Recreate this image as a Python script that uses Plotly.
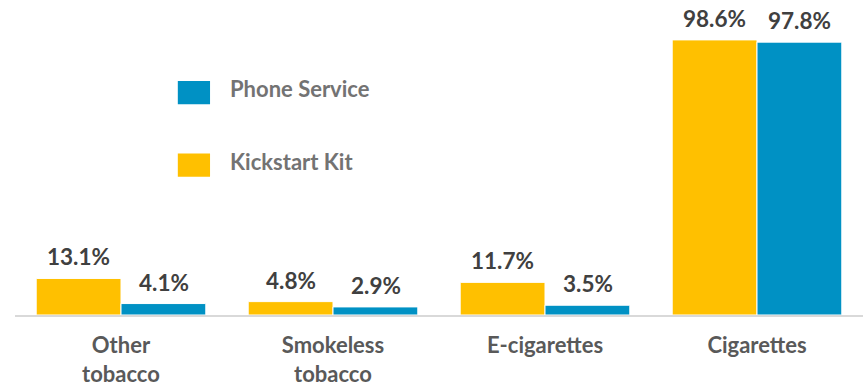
import plotly.graph_objects as go

categories = ["Other<br>tobacco", "Smokeless<br>tobacco", "E-cigarettes", "Cigarettes"]
kickstart = [13.1, 4.8, 11.7, 98.6]
phone = [4.1, 2.9, 3.5, 97.8]
series_names = ["Kickstart Kit", "Phone Service"]

YELLOW = "#FFC000"
BLUE = "#0091C4"
FONT = "Lato"

fig = go.Figure()
fig.add_trace(go.Bar(x=categories, y=kickstart, name=series_names[0], marker=dict(color=YELLOW, line=dict(color="white", width=1)), showlegend=False))
fig.add_trace(go.Bar(x=categories, y=phone, name=series_names[1], marker=dict(color=BLUE, line=dict(color="white", width=1)), showlegend=False))

ann = []
for i, c in enumerate(categories):
    for vals, shift in ((kickstart, -42.5), (phone, 42.5)):
        ann.append(dict(x=c, y=vals[i], xref="x", yref="y", text=f"{vals[i]:.1f}%", showarrow=False,
                        xanchor="center", yanchor="bottom", xshift=shift, yshift=6,
                        font=dict(family=FONT, size=22.5, color="#404040", weight="bold")))

# custom legend
legend_items = [(series_names[1], BLUE, 0.706), (series_names[0], YELLOW, 0.476)]
shapes = []
for name, col, yc in legend_items:
    shapes.append(dict(type="rect", xref="paper", yref="paper", x0=0.192, x1=0.230, y0=yc - 0.037, y1=yc + 0.037,
                       fillcolor=col, line=dict(width=0)))
    ann.append(dict(x=0.251, y=yc + 0.012, xref="paper", yref="paper", text=name, showarrow=False,
                    xanchor="left", yanchor="middle", font=dict(family=FONT, size=22, color="#737373", weight="bold")))

fig.update_layout(
    width=863, height=386,
    margin=dict(l=15, r=0, t=0, b=71),
    paper_bgcolor="white", plot_bgcolor="white",
    barmode="group", bargap=0.2, bargroupgap=0,
    annotations=ann, shapes=shapes,
    xaxis=dict(showline=True, linecolor="#D9D9D9", linewidth=2, ticks="", showgrid=False,
               ticklabelstandoff=10,
               tickfont=dict(family=FONT, size=22, color="#595959", weight="bold")),
    yaxis=dict(range=[0, 112.9], visible=False, showgrid=False, zeroline=False),
)
fig.write_html("out.html")
